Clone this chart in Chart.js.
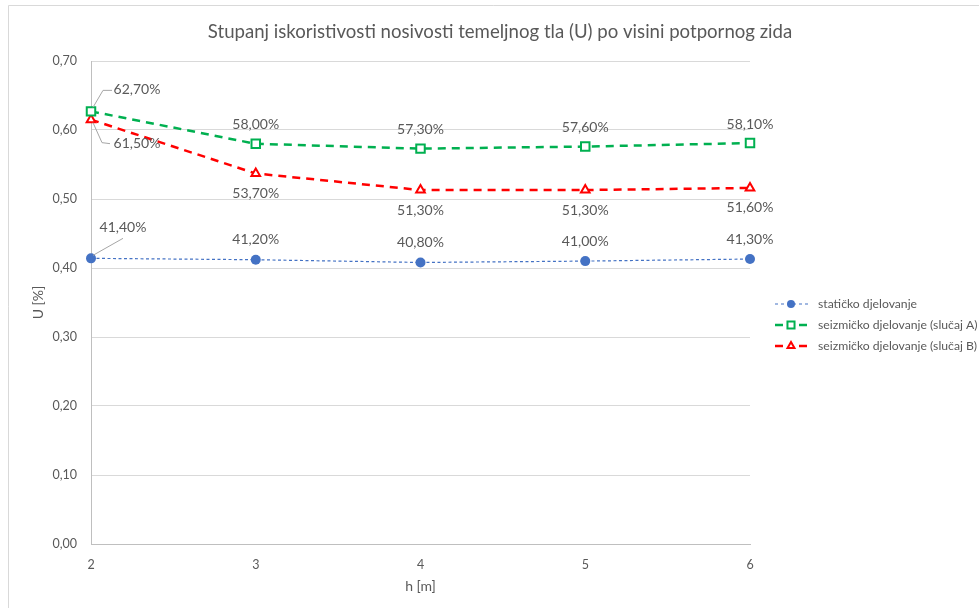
<!DOCTYPE html>
<html>
<head>
<meta charset="utf-8">
<script src="https://cdn.jsdelivr.net/npm/chart.js@4.4.1/dist/chart.umd.min.js"></script>
<style>
  html, body { margin: 0; padding: 0; background: #fff; }
  #wrap { width: 979px; height: 608px; position: relative; }
</style>
</head>
<body>
<div id="wrap"><canvas id="chart" width="979" height="608"></canvas></div>
<script>
const heights = ['2', '3', '4', '5', '6'];
const staticLoad = [0.414, 0.412, 0.408, 0.410, 0.413];
const seismicA = [0.627, 0.580, 0.573, 0.576, 0.581];
const seismicB = [0.615, 0.537, 0.513, 0.513, 0.516];
const yTicks = [0, 0.1, 0.2, 0.3, 0.4, 0.5, 0.6, 0.7];

const seriesNames = ['statičko djelovanje', 'seizmičko djelovanje (slučaj A)', 'seizmičko djelovanje (slučaj B)'];

const FONT = 'Lato, "Open Sans", sans-serif';
const GRAY_TEXT = '#595959';

function pct(v) {
    return (v * 100).toFixed(2).replace('.', ',') + '%';
}

// label placement per series: dy from the point, plus leader lines at the first point
const labelPlacement = [
    { dy: -20, first: { dx: 32, dy: -31, leader: [[2, -3], [32, -20]] } },
    { dy: -19, first: { dx: 46, dy: -22, leader: [[2, -4], [12, -21], [21, -21]] } },
    { dy: 20, first: { dx: 46, dy: 24, leader: [[2, 3], [11, 23], [19, 24]] } }
];

// dash used for the short legend sample of each series
const legendDash = [[3, 3], [8, 16], [8, 16]];

const frame = {
    id: 'frame',
    beforeDraw(chart) {
        const ctx = chart.ctx;
        ctx.save();
        ctx.fillStyle = '#fff';
        ctx.fillRect(0, 0, chart.width, chart.height);
        ctx.strokeStyle = '#D9D9D9';
        ctx.lineWidth = 1;
        ctx.beginPath();
        ctx.moveTo(8.5, chart.height);
        ctx.lineTo(8.5, 5.5);
        ctx.lineTo(chart.width, 5.5);
        ctx.stroke();
        // title
        ctx.fillStyle = GRAY_TEXT;
        ctx.font = '18.6px ' + FONT;
        ctx.textAlign = 'center';
        ctx.textBaseline = 'middle';
        ctx.fillText('Stupanj iskoristivosti nosivosti temeljnog tla (U) po visini potpornog zida', 500, 32);
        ctx.restore();
    }
};

const valueLabels = {
    id: 'valueLabels',
    afterDatasetsDraw(chart) {
        const ctx = chart.ctx;
        ctx.save();
        ctx.font = '14px ' + FONT;
        ctx.fillStyle = GRAY_TEXT;
        ctx.textBaseline = 'middle';
        ctx.textAlign = 'center';
        chart.data.datasets.forEach((ds, di) => {
            const meta = chart.getDatasetMeta(di);
            const place = labelPlacement[di];
            meta.data.forEach((pt, i) => {
                const text = pct(ds.data[i]);
                if (i === 0 && place.first) {
                    const f = place.first;
                    ctx.strokeStyle = '#A6A6A6';
                    ctx.lineWidth = 1;
                    ctx.beginPath();
                    f.leader.forEach((p, k) => {
                        const fn = k === 0 ? 'moveTo' : 'lineTo';
                        ctx[fn](pt.x + p[0], pt.y + p[1]);
                    });
                    ctx.stroke();
                    ctx.fillText(text, pt.x + f.dx, pt.y + f.dy);
                } else {
                    ctx.fillText(text, pt.x, pt.y + place.dy);
                }
            });
        });
        ctx.restore();
    }
};

const sideLegend = {
    id: 'sideLegend',
    afterDraw(chart) {
        const ctx = chart.ctx;
        ctx.save();
        ctx.font = '12.2px ' + FONT;
        ctx.textBaseline = 'middle';
        ctx.textAlign = 'left';
        chart.data.datasets.forEach((ds, i) => {
            const y = 304 + i * 21;
            ctx.strokeStyle = ds.borderColor;
            ctx.lineWidth = ds.borderWidth;
            ctx.setLineDash(legendDash[i]);
            ctx.beginPath();
            ctx.moveTo(775, y);
            ctx.lineTo(808, y);
            ctx.stroke();
            ctx.setLineDash([]);
            ctx.fillStyle = ds.pointBackgroundColor;
            ctx.strokeStyle = ds.borderColor;
            ctx.lineWidth = ds.pointBorderWidth;
            Chart.helpers.drawPoint(ctx, {
                pointStyle: ds.pointStyle,
                radius: ds.pointRadius - 1,
                rotation: 0,
                borderWidth: ds.pointBorderWidth
            }, 791, y);
            ctx.fillStyle = GRAY_TEXT;
            ctx.fillText(seriesNames[i], 818, y);
        });
        ctx.restore();
    }
};

new Chart(document.getElementById('chart').getContext('2d'), {
    type: 'line',
    data: {
        labels: heights,
        datasets: [
            {
                label: seriesNames[0],
                data: staticLoad,
                borderColor: '#4472C4',
                backgroundColor: '#4472C4',
                borderWidth: 1.2,
                borderDash: [3, 2.5],
                pointStyle: 'circle',
                pointRadius: 5,
                pointBorderWidth: 0,
                pointBackgroundColor: '#4472C4'
            },
            {
                label: seriesNames[1],
                data: seismicA,
                borderColor: '#00B050',
                backgroundColor: '#fff',
                borderWidth: 2.5,
                borderDash: [8, 6],
                pointStyle: 'rect',
                pointRadius: 6,
                pointBorderWidth: 2,
                pointBackgroundColor: '#fff'
            },
            {
                label: seriesNames[2],
                data: seismicB,
                borderColor: '#FF0000',
                backgroundColor: '#fff',
                borderWidth: 2.5,
                borderDash: [8, 6],
                pointStyle: 'triangle',
                pointRadius: 5,
                pointBorderWidth: 2,
                pointBackgroundColor: '#fff'
            }
        ]
    },
    options: {
        responsive: false,
        animation: false,
        layout: { padding: { top: 61, right: 229, bottom: 10, left: 28 } },
        plugins: {
            legend: { display: false },
            title: { display: false },
            tooltip: { enabled: false }
        },
        scales: {
            x: {
                offset: false,
                afterFit(scale) { scale.height = 54; },
                grid: { display: false, drawTicks: false },
                border: { display: true, color: '#BFBFBF' },
                ticks: { color: GRAY_TEXT, font: { family: FONT, size: 12.5 }, padding: 13 },
                title: { display: true, text: 'h [m]', color: GRAY_TEXT, font: { family: FONT, size: 14 }, padding: { top: 0, bottom: 3 } }
            },
            y: {
                min: 0,
                max: 0.7,
                afterFit(scale) { scale.width = 63; },
                afterBuildTicks(scale) { scale.ticks = yTicks.map(v => ({ value: v })); },
                grid: { color: '#D9D9D9', drawTicks: false },
                border: { display: true, color: '#BFBFBF' },
                ticks: {
                    color: GRAY_TEXT,
                    font: { family: FONT, size: 12.5 },
                    padding: 14,
                    callback: v => v.toFixed(2).replace('.', ',')
                },
                title: { display: true, text: 'U [%]', color: GRAY_TEXT, font: { family: FONT, size: 14 }, padding: { top: 2, bottom: 0 } }
            }
        }
    },
    plugins: [frame, valueLabels, sideLegend]
});
</script>
</body>
</html>
